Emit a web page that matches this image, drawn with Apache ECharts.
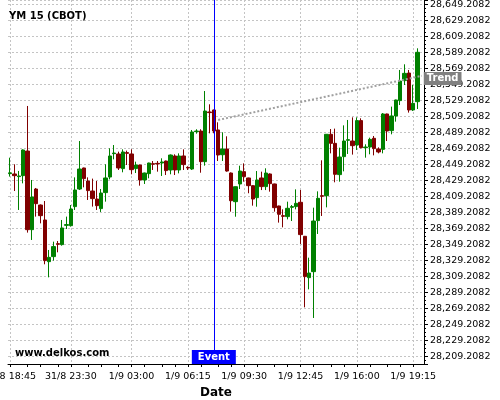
<!DOCTYPE html>
<html><head><meta charset="utf-8">
<script src="https://cdn.jsdelivr.net/npm/echarts@6/dist/echarts.min.js"></script>
<style>html,body{margin:0;padding:0;background:#fff}#c{width:500px;height:400px}</style>
</head><body><div id="c"></div>
<script>
// ---- data ----
const tickLabels = ['31/8 18:45','31/8 23:30','1/9 03:00','1/9 06:15','1/9 09:30','1/9 12:45','1/9 16:00','1/9 19:15'];
const tickIndex  = [0, 14, 28, 41, 54, 67, 80, 93];
const categoryCount = 96;

const opens = [28437.5,28437.1,28433.8,28435.0,28465.8,28367.5,28418.3,28398.3,28379.6,28327.5,
28333.8,28350.0,28348.8,28372.9,28372.5,28396.3,28418.3,28444.6,28428.3,28415.8,
28405.8,28393.8,28413.8,28433.3,28462.5,28462.1,28443.8,28463.8,28462.1,28443.8,
28448.3,28429.6,28437.5,28450.0,28450.4,28450.8,28453.3,28442.1,28459.6,28442.1,
28459.6,28445.4,28443.3,28490.0,28490.8,28452.5,28514.6,28517.1,28492.1,28461.2,
28468.3,28438.3,28402.5,28424.6,28440.0,28432.1,28422.5,28407.5,28432.1,28421.3,
28437.1,28424.6,28397.1,28385.0,28383.8,28395.4,28396.3,28401.7,28359.2,28307.5,
28315.0,28378.8,28410.0,28410.0,28486.7,28475.4,28436.3,28458.8,28479.2,28478.3,
28473.3,28503.8,28470.0,28470.8,28481.7,28468.3,28467.9,28512.1,28491.3,28509.6,
28528.8,28553.8,28563.3,28517.1,28527.5];
const closes = [28438.5,28435.0,28434.6,28467.1,28367.5,28408.3,28400.0,28385.0,28328.8,28332.9,
28346.3,28349.2,28369.6,28373.8,28393.3,28417.1,28443.3,28431.3,28416.3,28406.3,
28397.5,28413.3,28432.1,28459.6,28463.3,28444.6,28464.6,28462.9,28442.5,28448.3,
28429.6,28438.3,28450.8,28449.2,28449.6,28452.1,28441.3,28460.8,28442.1,28459.6,
28448.8,28444.6,28489.6,28490.8,28452.5,28515.8,28513.8,28490.8,28460.8,28468.3,
28440.8,28403.7,28421.2,28440.8,28433.8,28422.5,28405.8,28429.6,28421.3,28438.3,
28425.0,28395.0,28386.7,28384.2,28394.2,28396.3,28400.4,28361.3,28308.8,28313.3,
28378.3,28406.7,28409.2,28486.7,28475.4,28436.7,28458.3,28478.3,28480.0,28472.5,
28503.8,28470.0,28470.8,28480.4,28468.8,28464.6,28512.1,28490.8,28509.6,28529.6,
28553.3,28562.9,28517.1,28525.4,28589.2];
const lows = [28433.8,28415.8,28392.1,28425.4,28363.8,28354.6,28383.8,28375.4,28324.2,28307.9,
28328.8,28339.2,28347.5,28368.3,28371.3,28392.1,28417.1,28420.4,28404.6,28396.3,
28392.1,28389.6,28402.5,28430.4,28455.4,28442.1,28439.2,28448.3,28436.7,28438.3,
28422.5,28424.6,28431.7,28442.1,28440.0,28434.6,28435.8,28436.7,28435.8,28437.9,
28442.1,28442.1,28442.1,28487.5,28438.7,28447.5,28487.9,28488.0,28453.3,28453.3,
28440.0,28390.0,28383.7,28418.3,28427.5,28413.0,28397.5,28396.2,28417.0,28417.0,
28415.0,28390.0,28376.3,28370.4,28380.4,28378.3,28392.9,28349.6,28270.4,28292.9,
28257.1,28362.1,28384.6,28395.4,28462.9,28426.7,28427.5,28440.4,28462.1,28461.3,
28467.1,28469.2,28457.5,28461.7,28460.4,28462.9,28462.9,28478.3,28486.7,28502.5,
28523.3,28548.3,28513.8,28515.8,28518.3];
const highs = [28457.5,28449.2,28440.9,28467.9,28522.1,28429.6,28419.6,28399.0,28403.3,28342.1,
28352.5,28353.3,28379.6,28383.8,28398.3,28432.9,28478.3,28445.0,28432.9,28431.3,
28428.3,28418.3,28449.2,28469.2,28473.3,28465.0,28467.9,28466.3,28467.9,28452.5,
28448.8,28438.8,28451.2,28453.3,28453.3,28456.7,28453.8,28461.5,28461.7,28462.9,
28467.9,28446.7,28492.1,28493.0,28493.0,28540.8,28524.2,28517.5,28501.7,28489.2,
28484.2,28439.0,28421.5,28447.5,28450.4,28432.5,28423.0,28440.8,28440.0,28444.2,
28437.9,28425.0,28397.5,28392.9,28402.5,28398.3,28417.9,28417.1,28359.6,28332.5,
28395.0,28415.4,28454.2,28487.0,28493.3,28493.8,28470.0,28497.9,28504.6,28507.9,
28507.9,28506.7,28474.2,28482.5,28484.6,28470.4,28513.3,28512.5,28521.3,28530.0,
28567.1,28574.2,28567.1,28548.3,28594.2];

const eventIndex = 47;
const eventLabel = 'Event';
const eventLabelValue = 28208.3;
const trendStart = [48, 28504.6];
const trendEnd   = [95, 28559.8];
const trendLabel = 'Trend';

const yMin = 28199.58, yMax = 28654.58;
const tickBase = 28209.2082, tickStep = 20;

// ---- build ----
const OFF = tickBase - tickStep * Math.floor(tickBase / tickStep); // shift so ticks land on tickBase + k*step

function parseLbl(s){
  const [dm, hm] = s.split(' ');
  const [d, m] = dm.split('/').map(Number);
  const [h, mi] = hm.split(':').map(Number);
  return new Date(2015, m - 1, d, h, mi);
}
function pad(n){ return (n < 10 ? '0' : '') + n; }
const categories = [];
for (let i = 0; i < categoryCount; i++) {
  let j = 0;
  for (let k = 0; k < tickIndex.length; k++) if (tickIndex[k] <= i) j = k;
  const d = parseLbl(tickLabels[j]);
  d.setMinutes(d.getMinutes() + 15 * (i - tickIndex[j]));
  categories.push(d.getDate() + '/' + (d.getMonth() + 1) + ' ' + pad(d.getHours()) + ':' + pad(d.getMinutes()));
}
const labelSet = new Set(tickIndex);
const tickSet = new Set(tickIndex);
for (let s = 0; s < tickIndex.length - 1; s++) {
  const a = tickIndex[s], b = tickIndex[s + 1];
  for (let k = 1; k < 4; k++) tickSet.add(a + Math.round(k * (b - a) / 4));
}

const candleData = opens.map((o, i) => [o - OFF, closes[i] - OFF, lows[i] - OFF, highs[i] - OFF]);

function fmtY(v){
  const real = v + OFF;
  const k = (real - tickBase) / tickStep;
  if (Math.abs(k - Math.round(k)) > 1e-6) return '';
  const s = (Math.round(real * 10000) / 10000).toFixed(4);
  const [ip, fp] = s.split('.');
  return ip.replace(/\B(?=(\d{3})+(?!\d))/g, ',') + '.' + fp;
}

const FONT = 'DejaVu Sans';
const chart = echarts.init(document.getElementById('c'), null, {renderer: 'canvas'});
chart.setOption({
  animation: false,
  backgroundColor: '#ffffff',
  title: [
    {text: 'YM 15 (CBOT)', left: 9, top: 11, padding: 0,
     textStyle: {fontSize: 10, fontWeight: 'bold', color: '#000', fontFamily: FONT}},
    {text: 'www.delkos.com', left: 15, top: 348, padding: 0,
     textStyle: {fontSize: 10, fontWeight: 'bold', color: '#000', fontFamily: FONT}}
  ],
  grid: {left: 8, right: 76, top: 0, bottom: 36, containLabel: false, outerBoundsMode: 'none'},
  xAxis: {
    type: 'category',
    data: categories,
    boundaryGap: true,
    name: 'Date',
    nameLocation: 'middle',
    nameGap: 19,
    nameTextStyle: {fontSize: 12, fontWeight: 'bold', color: '#000', fontFamily: FONT},
    axisLine: {show: true, lineStyle: {color: '#000', width: 1}},
    axisTick: {show: true, length: 3, alignWithLabel: true, interval: (i) => tickSet.has(i), lineStyle: {color: '#000'}},
    axisLabel: {show: true, interval: (i) => labelSet.has(i), margin: 8, fontSize: 9.5, color: '#000', fontFamily: FONT, hideOverlap: false},
    splitLine: {show: true, alignWithLabel: true, interval: (i) => labelSet.has(i), lineStyle: {color: '#c4c4c4', type: [2, 2], width: 1}}
  },
  yAxis: {
    type: 'value',
    position: 'right',
    min: yMin - OFF,
    max: yMax - OFF,
    splitNumber: 23,
    axisLine: {show: true, lineStyle: {color: '#000', width: 1}},
    axisTick: {show: true, length: 4, lineStyle: {color: '#000'}},
    minorTick: {show: true, splitNumber: 4, length: 2, lineStyle: {color: '#000'}},
    axisLabel: {margin: 6, fontSize: 9.5, color: '#000', fontFamily: FONT, formatter: fmtY},
    splitLine: {show: true, lineStyle: {color: '#c4c4c4', type: [2, 2], width: 1}}
  },
  series: [{
    type: 'candlestick',
    data: candleData,
    barWidth: 4,
    itemStyle: {color: '#008000', color0: '#800000', borderColor: '#008000', borderColor0: '#800000', borderWidth: 1},
    markLine: {
      silent: true,
      symbol: ['none', 'none'],
      animation: false,
      data: [
        {xAxis: eventIndex, lineStyle: {color: '#0000ff', width: 1, type: 'solid'}, label: {show: false}},
        [
          {coord: [trendStart[0], trendStart[1] - OFF]},
          {coord: [trendEnd[0], trendEnd[1] - OFF],
           lineStyle: {color: '#a0a0a0', width: 2, type: [2, 2]},
           label: {show: true, position: 'end', distance: 2, offset: [0, 3], formatter: trendLabel, color: '#fff', fontWeight: 'bold',
                   fontSize: 10, fontFamily: FONT, backgroundColor: '#808080', padding: [2, 3, 1, 3]}}
        ]
      ]
    },
    markPoint: {
      silent: true,
      animation: false,
      data: [{
        coord: [eventIndex, eventLabelValue - OFF],
        symbol: 'rect', symbolSize: [44, 14],
        itemStyle: {color: '#0000ff'},
        label: {show: true, position: 'inside', formatter: eventLabel, color: '#fff', fontWeight: 'bold', fontSize: 10, fontFamily: FONT}
      }]
    }
  }]
});
</script>
</body></html>
